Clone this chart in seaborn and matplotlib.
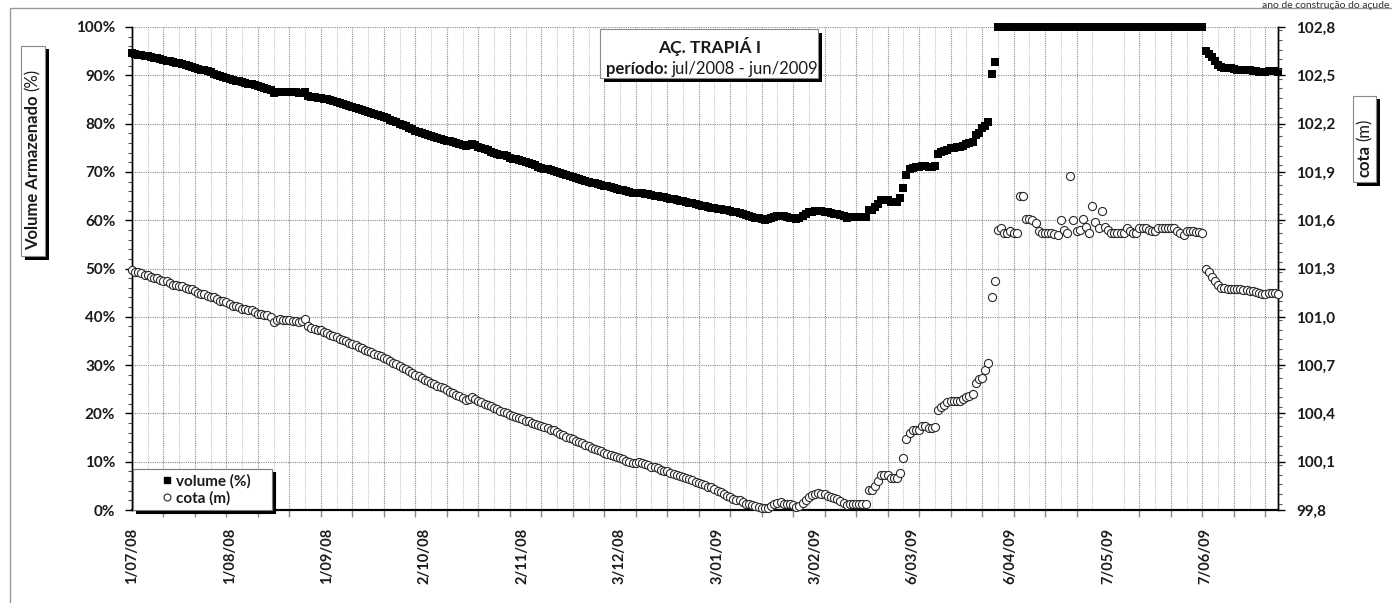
import numpy as np
import pandas as pd
import matplotlib
matplotlib.use("Agg")
import matplotlib.pyplot as plt
import seaborn as sns
from matplotlib.patches import Rectangle
from matplotlib.lines import Line2D
from matplotlib.ticker import FixedLocator, MultipleLocator

# ---------------- data (daily readings, 1/07/2008 - 30/06/2009) ----------------
cota_jul = [101.29, 101.28, 101.28, 101.27, 101.26, 101.26, 101.25, 101.24, 101.24, 101.23, 101.22,
            101.22, 101.21, 101.20, 101.20, 101.19, 101.19, 101.18, 101.17, 101.17, 101.16,
            101.15, 101.14, 101.14, 101.13, 101.12, 101.12, 101.11, 101.10, 101.10, 101.09]
cota_aug = [101.08, 101.07, 101.07, 101.06, 101.05, 101.05, 101.04, 101.04, 101.03, 101.02, 101.02,
            101.01, 101.01, 101.00, 100.97, 100.98, 100.985, 100.98, 100.98, 100.98, 100.975,
            100.975, 100.97, 100.975, 100.985, 100.94, 100.93, 100.925, 100.92, 100.915, 100.905]
cota_sep = [100.90, 100.89, 100.88, 100.875, 100.865, 100.855, 100.85, 100.84, 100.83, 100.825,
            100.815, 100.805, 100.795, 100.79, 100.78, 100.77, 100.76, 100.755, 100.745, 100.735,
            100.725, 100.715, 100.705, 100.695, 100.685, 100.675, 100.665, 100.65, 100.64, 100.63]
cota_oct = [100.62, 100.61, 100.60, 100.59, 100.58, 100.57, 100.565, 100.555, 100.545, 100.535,
            100.525, 100.515, 100.505, 100.495, 100.485, 100.49, 100.50, 100.49, 100.48, 100.47,
            100.46, 100.455, 100.445, 100.435, 100.425, 100.415, 100.41, 100.40, 100.39, 100.385, 100.38]
cota_nov = [100.37, 100.365, 100.355, 100.35, 100.34, 100.335, 100.325, 100.32, 100.315, 100.31,
            100.30, 100.295, 100.285, 100.275, 100.265, 100.255, 100.25, 100.24, 100.23, 100.22,
            100.215, 100.205, 100.195, 100.185, 100.18, 100.17, 100.165, 100.155, 100.15, 100.14]
cota_dec = [100.135, 100.13, 100.12, 100.115, 100.105, 100.10, 100.09, 100.095, 100.10, 100.09,
            100.085, 100.08, 100.07, 100.065, 100.06, 100.05, 100.045, 100.04, 100.03, 100.025,
            100.02, 100.01, 100.005, 100.00, 99.99, 99.985, 99.975, 99.97, 99.96, 99.955, 99.945]
cota_jan = [99.94, 99.93, 99.92, 99.91, 99.90, 99.89, 99.88, 99.87, 99.865, 99.86, 99.85, 99.84,
            99.835, 99.83, 99.825, 99.82, 99.815, 99.81, 99.815, 99.825, 99.835, 99.845, 99.85,
            99.84, 99.835, 99.835, 99.83, 99.82, 99.825, 99.845, 99.865]
cota_feb = [99.88, 99.895, 99.90, 99.905, 99.90, 99.90, 99.89, 99.88, 99.875, 99.87, 99.855, 99.845,
            99.83, 99.84, 99.84, 99.84, 99.84, 99.84, 99.84, 99.925, 99.925, 99.95, 99.98, 100.015,
            100.02, 100.02, 100.00, 100.00]
cota_mar = [100.00, 100.03, 100.12, 100.24, 100.28, 100.30, 100.30, 100.30, 100.32, 100.32, 100.31,
            100.31, 100.315, 100.42, 100.44, 100.455, 100.47, 100.48, 100.48, 100.48, 100.48, 100.49,
            100.50, 100.51, 100.52, 100.59, 100.615, 100.62, 100.67, 100.71, 101.12]
cota_apr = [101.22, 101.54, 101.55, 101.52, 101.52, 101.53, 101.52, 101.52, 101.75, 101.75, 101.61,
            101.61, 101.60, 101.585, 101.53, 101.52, 101.52, 101.52, 101.52, 101.515, 101.51, 101.60,
            101.54, 101.52, 101.875, 101.60, 101.53, 101.54, 101.61, 101.56]
cota_may = [101.52, 101.69, 101.59, 101.55, 101.66, 101.56, 101.54, 101.52, 101.52, 101.52, 101.52,
            101.52, 101.55, 101.53, 101.52, 101.52, 101.55, 101.55, 101.55, 101.54, 101.53, 101.53,
            101.55, 101.55, 101.55, 101.55, 101.55, 101.55, 101.53, 101.52, 101.51]
cota_jun = [101.53, 101.53, 101.53, 101.525, 101.525, 101.52, 101.30, 101.28, 101.245, 101.22,
            101.195, 101.18, 101.18, 101.175, 101.175, 101.17, 101.17, 101.17, 101.165, 101.165,
            101.16, 101.16, 101.155, 101.145, 101.14, 101.14, 101.15, 101.15, 101.15, 101.14]

vol_jul = [94.6, 94.4, 94.2, 94.1, 94.0, 93.9, 93.8, 93.6, 93.5, 93.3, 93.2, 93.0, 92.9, 92.8, 92.6,
           92.5, 92.3, 92.1, 91.9, 91.7, 91.5, 91.4, 91.2, 91.0, 90.8, 90.6, 90.3, 90.0, 89.8, 89.6, 89.4]
vol_aug = [89.2, 89.1, 88.9, 88.8, 88.6, 88.5, 88.3, 88.1, 87.9, 87.7, 87.5, 87.3, 87.1, 86.9, 86.3,
           86.5, 86.6, 86.6, 86.6, 86.5, 86.5, 86.5, 86.4, 86.4, 86.5, 85.7, 85.6, 85.5, 85.4, 85.3, 85.1]
vol_sep = [85.0, 84.8, 84.6, 84.4, 84.2, 84.0, 83.8, 83.6, 83.4, 83.2, 83.0, 82.8, 82.6, 82.4, 82.2,
           82.0, 81.8, 81.6, 81.4, 81.1, 80.8, 80.6, 80.3, 80.0, 79.7, 79.4, 79.1, 78.8, 78.5, 78.3]
vol_oct = [78.1, 77.9, 77.7, 77.5, 77.3, 77.1, 76.9, 76.7, 76.5, 76.3, 76.1, 75.9, 75.7, 75.5, 75.3,
           75.5, 75.7, 75.5, 75.2, 75.0, 74.7, 74.5, 74.2, 74.0, 73.8, 73.6, 73.4, 73.2, 72.9, 72.7, 72.6]
vol_nov = [72.4, 72.2, 72.0, 71.8, 71.6, 71.4, 71.1, 70.9, 70.7, 70.5, 70.3, 70.1, 69.9, 69.7, 69.5,
           69.3, 69.1, 68.9, 68.7, 68.5, 68.3, 68.1, 67.9, 67.8, 67.6, 67.4, 67.3, 67.1, 67.0, 66.8]
vol_dec = [66.7, 66.5, 66.3, 66.2, 66.0, 65.8, 65.6, 65.7, 65.7, 65.6, 65.5, 65.4, 65.2, 65.1, 65.0,
           64.8, 64.7, 64.6, 64.4, 64.3, 64.2, 64.0, 63.9, 63.8, 63.6, 63.5, 63.3, 63.2, 63.0, 62.9, 62.7]
vol_jan = [62.6, 62.5, 62.4, 62.3, 62.2, 62.1, 62.0, 61.8, 61.6, 61.4, 61.2, 61.0, 60.9, 60.7, 60.5,
           60.4, 60.2, 60.1, 60.2, 60.4, 60.6, 60.8, 60.9, 60.8, 60.6, 60.5, 60.4, 60.3, 60.5, 60.9, 61.3]
vol_feb = [61.6, 61.8, 61.9, 62.0, 61.9, 61.8, 61.7, 61.5, 61.3, 61.2, 61.0, 60.8, 60.5, 60.6, 60.6,
           60.6, 60.6, 60.6, 60.6, 62.1, 62.2, 62.8, 63.3, 64.2, 64.2, 64.1, 63.8, 63.8]
vol_mar = [63.8, 64.5, 66.6, 69.4, 70.6, 70.8, 71.0, 71.1, 71.2, 71.2, 71.1, 71.1, 71.2, 73.7, 74.2,
           74.4, 74.6, 74.9, 75.0, 75.1, 75.1, 75.4, 75.7, 75.9, 76.2, 77.6, 78.1, 79.0, 79.6, 80.4, 90.3]
vol_apr = [92.8, 100.0, 100.0, 100.0, 100.0, 100.0, 100.0, 100.0, 100.0, 100.0, 100.0, 100.0, 100.0,
           100.0, 100.0, 100.0, 100.0, 100.0, 100.0, 100.0, 100.0, 100.0, 100.0, 100.0, 100.0, 100.0,
           100.0, 100.0, 100.0, 100.0]
vol_may = [100.0, 100.0, 100.0, 100.0, 100.0, 100.0, 100.0, 100.0, 100.0, 100.0, 100.0, 100.0, 100.0,
           100.0, 100.0, 100.0, 100.0, 100.0, 100.0, 100.0, 100.0, 100.0, 100.0, 100.0, 100.0, 100.0,
           100.0, 100.0, 100.0, 100.0, 100.0]
vol_jun = [100.0, 100.0, 100.0, 100.0, 100.0, 100.0, 95.1, 94.5, 93.8, 93.0, 92.2, 91.8, 91.6, 91.5,
           91.5, 91.3, 91.2, 91.2, 91.1, 91.0, 91.0, 90.9, 90.8, 90.7, 90.6, 90.6, 90.8, 90.9, 90.8, 90.6]

x_tick_labels = ['1/07/08', '1/08/08', '1/09/08', '2/10/08', '2/11/08', '3/12/08',
                 '3/01/09', '3/02/09', '6/03/09', '6/04/09', '7/05/09', '7/06/09']
vol_tick_labels = ['0%', '10%', '20%', '30%', '40%', '50%', '60%', '70%', '80%', '90%', '100%']
cota_tick_labels = ['99,8', '100,1', '100,4', '100,7', '101,0', '101,3', '101,6',
                    '101,9', '102,2', '102,5', '102,8']
series_labels = ['volume (%)', 'cota (m)']
title_line1 = 'AÇ. TRAPIÁ I'
title_bold = 'período:'
title_rest = 'jul/2008 - jun/2009'
note_text = 'ano de construção do açude'
start_date = '2008-07-01'
end_date = '2009-06-30'

# ---------------- assemble ----------------
cota = cota_jul + cota_aug + cota_sep + cota_oct + cota_nov + cota_dec + \
       cota_jan + cota_feb + cota_mar + cota_apr + cota_may + cota_jun
vol = vol_jul + vol_aug + vol_sep + vol_oct + vol_nov + vol_dec + \
      vol_jan + vol_feb + vol_mar + vol_apr + vol_may + vol_jun
start = pd.Timestamp(start_date)
dates = pd.date_range(start, periods=len(cota), freq='D')
df = pd.DataFrame({'date': dates, 'cota': cota, 'vol': vol})
df['day'] = (df['date'] - start).dt.days
x_max = (pd.Timestamp(end_date) - start).days
x_tick_pos = (pd.to_datetime(x_tick_labels, format='%d/%m/%y') - start).days
vol_ticks = [float(s.rstrip('%')) for s in vol_tick_labels]
cota_ticks = [float(s.replace(',', '.')) for s in cota_tick_labels]

# ---------------- style ----------------
sns.set_theme(style='white')
plt.rcParams['font.family'] = ['Lato', 'DejaVu Sans']
TXT = '#1a1a1a'

W, H = 1392, 603
fig = plt.figure(figsize=(W / 100, H / 100), dpi=100)
fig.patch.set_facecolor('white')


def fx(x):
    return x / W


def fy(y):
    return 1 - y / H


L, R, T, B = 132, 1278, 27, 510
ax = fig.add_axes([fx(L), fy(B), (R - L) / W, (B - T) / H])
ax.set_facecolor('white')
ax2 = ax.twinx()

# series
sns.scatterplot(data=df, x='day', y='vol', ax=ax, marker='s', s=38, color='black',
                edgecolor='black', linewidth=0, clip_on=False, zorder=4, legend=False)
sns.scatterplot(data=df, x='day', y='cota', ax=ax2, marker='o', s=34, color='#2a2a2a',
                facecolor='white', edgecolor='#2a2a2a', linewidth=0.8, clip_on=False,
                zorder=4, legend=False)

ax.set_xlim(0, x_max)
ax.set_ylim(vol_ticks[0], vol_ticks[-1])
ax2.set_ylim(cota_ticks[0], cota_ticks[-1])
ax.set_xlabel('')
ax.set_ylabel('')
ax2.set_ylabel('')

# x axis: labels every 31 days, tick marks every 10 days, grid every 5 days
ax.xaxis.set_major_locator(FixedLocator(list(x_tick_pos)))
ax.set_xticklabels(x_tick_labels, rotation=90, fontsize=10.5, fontweight='bold', color=TXT)
ax.xaxis.set_minor_locator(MultipleLocator(10))
ax.tick_params(axis='x', which='major', length=0, pad=13)
ax.tick_params(axis='x', which='minor', length=5, width=1, color='#8a8a8a', direction='out',
               bottom=True)
ax.grid(False, which='major', axis='x')
ax.grid(True, which='minor', axis='x', color='#8c8c8c', linestyle=(0, (1, 1)), linewidth=0.8)
for d in range(5, x_max + 1, 10):
    ax.axvline(d, color='#c4c4c4', linestyle=(0, (1, 1)), linewidth=0.8, zorder=0.5)

# left axis
ax.yaxis.set_major_locator(FixedLocator(vol_ticks))
ax.set_yticklabels(vol_tick_labels, fontsize=11, fontweight='bold', color=TXT)
ax.yaxis.set_minor_locator(MultipleLocator(2))
ax.tick_params(axis='y', which='major', length=5, width=1, color='black', direction='out',
               pad=7, left=True)
ax.tick_params(axis='y', which='minor', length=3, width=0.8, color='#555555', direction='out',
               left=True)
ax.grid(True, which='major', axis='y', color='#8c8c8c', linestyle=(0, (1, 1)), linewidth=0.8)
ax.set_axisbelow(True)

# right axis
ax2.yaxis.set_major_locator(FixedLocator(cota_ticks))
ax2.set_yticklabels(cota_tick_labels, fontsize=11, fontweight='bold', color=TXT)
ax2.yaxis.set_minor_locator(MultipleLocator(0.06))
ax2.tick_params(axis='y', which='major', length=5, width=1, color='black', direction='out',
                pad=8, right=True)
ax2.tick_params(axis='y', which='minor', length=3, width=0.8, color='#555555',
                direction='out', right=True)
ax2.grid(False)

for a in (ax, ax2):
    a.spines['top'].set_visible(False)
    a.spines['left'].set_color('black')
    a.spines['right'].set_color('black')
    a.spines['bottom'].set_color('black')
    a.spines['left'].set_linewidth(1.0)
    a.spines['right'].set_linewidth(1.0)
    a.spines['bottom'].set_linewidth(1.5)

# legend
handles = [Line2D([], [], marker='s', ls='', color='black', markersize=5),
           Line2D([], [], marker='o', ls='', markerfacecolor='white', markeredgecolor='#2a2a2a',
                  markeredgewidth=0.8, markersize=5)]
leg = ax2.legend(handles, series_labels, loc='lower left',
                 bbox_to_anchor=((133 - L) / (R - L), 0.0, (272 - 133) / (R - L), (B - 464) / (B - T)),
                 mode='expand', borderaxespad=0, borderpad=0.28, labelspacing=0.2,
                 handlelength=3.9, handletextpad=-1.36,
                 prop={'weight': 'bold', 'size': 11}, frameon=True, fancybox=False,
                 edgecolor='#7a7a7a', framealpha=1,
                 shadow={'color': 'black', 'alpha': 1})
leg.get_frame().set_linewidth(0.8)
for t in leg.get_texts():
    t.set_color(TXT)


# boxes with drop shadow
def shadow_box(x0, y0, x1, y1, off=3.5):
    fig.add_artist(Rectangle((fx(x0 + off), fy(y1 + off)), (x1 - x0) / W, (y1 - y0) / H,
                             facecolor='black', edgecolor='none', transform=fig.transFigure,
                             zorder=5))
    fig.add_artist(Rectangle((fx(x0), fy(y1)), (x1 - x0) / W, (y1 - y0) / H,
                             facecolor='white', edgecolor='#8a8a8a', lw=0.8,
                             transform=fig.transFigure, zorder=6))


def chained(text, anchor, xy, offset, **kw):
    a = ax.annotate(text, xy=xy, xycoords=anchor, xytext=offset, textcoords='offset points',
                    annotation_clip=False, **kw)
    a.remove()
    fig.add_artist(a)
    a.set_zorder(7)
    return a


# title box
shadow_box(600, 29, 818, 78)
fig.text(fx(710), fy(46), title_line1, ha='center', va='center', fontsize=12.5,
         fontweight='bold', color=TXT, zorder=7)
t1 = fig.text(fx(606), fy(69), title_bold, ha='left', va='center', fontsize=12,
              fontweight='bold', color=TXT, zorder=7)
chained(title_rest, t1, (1, 0.5), (3, 0), ha='left', va='center', fontsize=12, color=TXT)

# left axis title
shadow_box(21, 46, 45, 256)
ly1 = fig.text(fx(33), fy(250), 'Volume Armazenado', rotation=90, ha='center', va='bottom',
               fontsize=12, fontweight='bold', color=TXT, zorder=7)
chained('(%)', ly1, (0.5, 1), (0, 3), rotation=90, ha='center', va='bottom', fontsize=12,
        color=TXT)

# right axis title
shadow_box(1353, 96, 1376, 182)
ry1 = fig.text(fx(1365), fy(177), 'cota', rotation=90, ha='center', va='bottom',
               fontsize=12, fontweight='bold', color=TXT, zorder=7)
chained('(m)', ry1, (0.5, 1), (0, 3), rotation=90, ha='center', va='bottom', fontsize=12,
        color=TXT)

# outer chart-area frame and note at the top right
fig.add_artist(Line2D([fx(10), fx(10)], [fy(8), 0], color='#9a9a9a', lw=1,
                      transform=fig.transFigure))
fig.add_artist(Line2D([fx(10), 1], [fy(8), fy(8)], color='#9a9a9a', lw=1,
                      transform=fig.transFigure))
fig.text(fx(1389), fy(0.5), note_text, ha='right', va='top',
         fontsize=7.5, color='#333333')

fig.savefig('out.png', dpi=100, facecolor='white')
